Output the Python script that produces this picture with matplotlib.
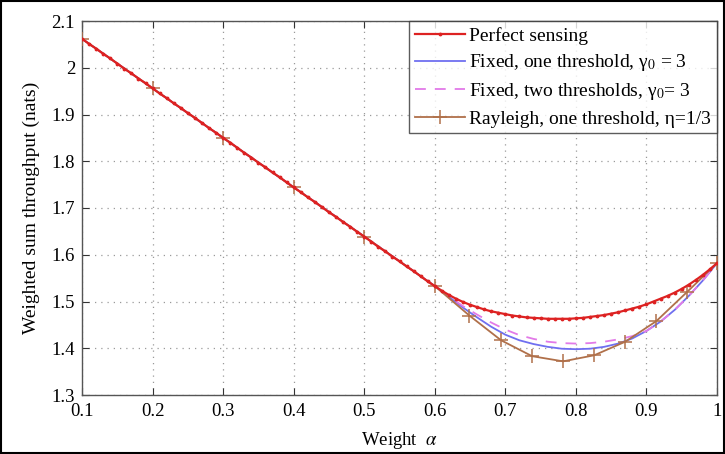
import matplotlib
matplotlib.use("Agg")
import matplotlib.pyplot as plt
import numpy as np
from matplotlib.patches import Rectangle

plt.rcParams["font.family"] = ["Liberation Serif", "DejaVu Serif"]
plt.rcParams["mathtext.fontset"] = "stix"

# weight alpha grid for the perfect-sensing curve (0.01 step)
alpha_perfect = np.round(np.arange(0.10, 1.0001, 0.01), 2)
perfect = [
    2.062, 2.051, 2.041, 2.030, 2.020, 2.009, 1.998, 1.988, 1.977, 1.967,
    1.956, 1.945, 1.935, 1.924, 1.914, 1.903, 1.893, 1.882, 1.871, 1.861,
    1.850, 1.840, 1.829, 1.818, 1.808, 1.797, 1.787, 1.776, 1.766, 1.755,
    1.744, 1.734, 1.723, 1.713, 1.702, 1.691, 1.681, 1.670, 1.660, 1.649,
    1.639, 1.628, 1.617, 1.607, 1.596, 1.586, 1.575, 1.565, 1.554, 1.543,
    1.533, 1.523, 1.514, 1.506, 1.499, 1.493, 1.488, 1.483, 1.479, 1.476,
    1.473, 1.470, 1.468, 1.466, 1.465, 1.464, 1.463, 1.463, 1.463, 1.463,
    1.464, 1.465, 1.467, 1.469, 1.471, 1.474, 1.477, 1.481, 1.485, 1.489,
    1.494, 1.500, 1.506, 1.512, 1.519, 1.527, 1.536, 1.546, 1.557, 1.569,
    1.582,
]

alpha_fixed = [0.10, 0.30, 0.50, 0.60, 0.62, 0.64, 0.66, 0.68, 0.70, 0.72, 0.74,
               0.76, 0.78, 0.80, 0.82, 0.84, 0.86, 0.88, 0.90, 0.92, 0.94,
               0.96, 0.98, 1.00]
fixed_one = [2.062, 1.850, 1.639, 1.533, 1.510, 1.487, 1.466, 1.446, 1.429, 1.417,
             1.409, 1.403, 1.399, 1.398, 1.399, 1.403, 1.410, 1.421, 1.437,
             1.457, 1.482, 1.512, 1.545, 1.582]
fixed_two = [2.062, 1.850, 1.639, 1.533, 1.511, 1.490, 1.472, 1.455, 1.440, 1.428,
             1.420, 1.414, 1.411, 1.410, 1.411, 1.414, 1.419, 1.426, 1.437,
             1.457, 1.482, 1.512, 1.545, 1.582]

alpha_rayleigh = [0.1, 0.2, 0.3, 0.4, 0.5, 0.6, 0.649, 0.694, 0.738, 0.782,
                  0.826, 0.870, 0.914, 0.958, 1.0]
rayleigh = [2.062, 1.956, 1.850, 1.744, 1.639, 1.533, 1.470, 1.417, 1.383,
            1.372, 1.385, 1.414, 1.458, 1.521, 1.582]

xticks = [0.1, 0.2, 0.3, 0.4, 0.5, 0.6, 0.7, 0.8, 0.9, 1.0]
xticklabels = ["0.1", "0.2", "0.3", "0.4", "0.5", "0.6", "0.7", "0.8", "0.9", "1"]
yticks = [1.3, 1.4, 1.5, 1.6, 1.7, 1.8, 1.9, 2.0, 2.1]
yticklabels = ["1.3", "1.4", "1.5", "1.6", "1.7", "1.8", "1.9", "2", "2.1"]

fig = plt.figure(figsize=(7.25, 4.54), dpi=100)
ax = fig.add_axes([82/725, 59/454, 635/725, 374/454])

ax.plot(alpha_fixed, fixed_one, color="#6f6ff0", lw=1.3,
        label="Fixed, one threshold, γ$_0$ = 3", zorder=3)
ax.plot(alpha_fixed, fixed_two, color="#e27ae8", lw=1.3, ls=(0, (6, 5)),
        label="Fixed, two thresholds, γ$_0$= 3", zorder=4)
ax.plot(alpha_rayleigh, rayleigh, color="#b0704a", lw=1.3, marker="+",
        ms=10, mew=1.1, label="Rayleigh, one threshold, η=1/3", zorder=5)
ax.plot(alpha_perfect, perfect, color="#dd2222", lw=1.6, marker=".",
        ms=3.5, label="Perfect sensing", zorder=6)

ax.set_xlim(0.1, 1.0)
ax.set_ylim(1.3, 2.1)
ax.set_xticks(xticks)
ax.set_xticklabels(xticklabels)
ax.set_yticks(yticks)
ax.set_yticklabels(yticklabels)
ax.tick_params(direction="in", top=True, right=True, length=5, width=0.8,
               labelsize=13.5, colors="#333333", labelcolor="black")
ax.tick_params(axis="x", pad=6)
ax.tick_params(axis="y", pad=5)
ax.grid(True, ls=(0, (1, 4)), color="#9a9a9a", lw=0.9)
for sp in ax.spines.values():
    sp.set_color("#555555")
    sp.set_linewidth(1.0)

ax.set_xlabel("Weight  $\\alpha$", fontsize=13.5, labelpad=7)
ax.set_ylabel("Weighted sum throughput (nats)", fontsize=14, labelpad=8)

h, l = ax.get_legend_handles_labels()
order = [3, 0, 1, 2]
leg = ax.legend([h[i] for i in order], [l[i] for i in order],
                loc="upper right", bbox_to_anchor=(1.0, 1.0), fontsize=14,
                frameon=True, fancybox=False, handlelength=2.6,
                handletextpad=0.2, borderpad=0.3, labelspacing=0.4,
                borderaxespad=0.0)
leg.get_frame().set_edgecolor("#333333")
leg.get_frame().set_linewidth(1.0)

fig.patches.append(Rectangle((0.002, 0.003), 0.996, 0.994, transform=fig.transFigure,
                             fill=False, edgecolor="black", lw=1.5))

fig.savefig("out.png", dpi=100)
